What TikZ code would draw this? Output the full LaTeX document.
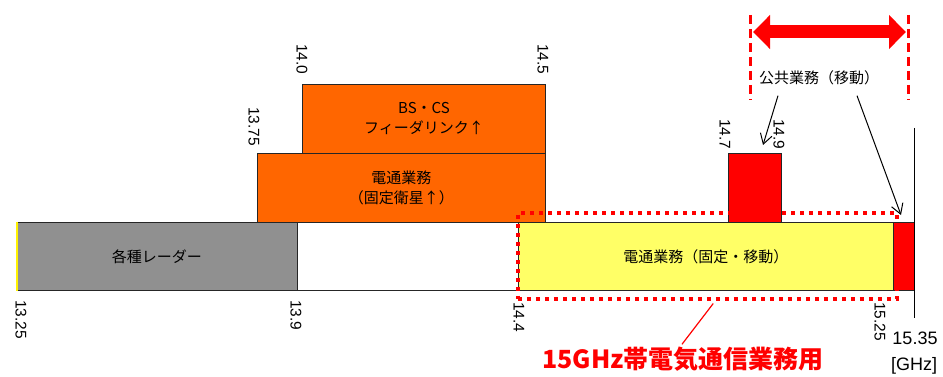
\documentclass[tikz,border=0pt]{standalone}
\usepackage{fontspec}
\setmainfont{Liberation Sans}
\newfontfamily\jp{Noto Sans CJK JP}
\usepackage{tikz}
\usetikzlibrary{arrows.meta,positioning}
\definecolor{radar}{HTML}{909090}
\definecolor{sat}{HTML}{FF6600}
\definecolor{fixmob}{HTML}{FFFF66}
\definecolor{pub}{HTML}{FF0000}
\def\jpfont{\jp\fontsize{15}{20}\selectfont}

\begin{document}
\begin{tikzpicture}[band/.style={draw=black!85, line width=0.9pt, anchor=north west, inner sep=0pt, align=center, font=\jpfont}, freq/.style={rotate=-90, anchor=west, inner sep=0pt, font=\fontsize{15.5}{15.5}\selectfont}, reddash/.style={draw=pub, line width=3.5pt, dash pattern=on 4pt off 5pt}, >={Straight Barb[length=10pt,width=12pt]}]
\useasboundingbox (0pt,0pt) rectangle (943pt,-377pt);
% band boxes
\draw (16.0pt, -222.0pt)node[band, fill=radar, minimum width=281pt, minimum height=68pt](radar){各種レーダー};
\draw (518.0pt, -222.0pt)node[band, fill=fixmob, minimum width=375pt, minimum height=68pt](fixmob){電通業務（固定・移動）};
\draw (893.0pt, -222.0pt)node[band, fill=pub, minimum width=21pt, minimum height=68pt](pubend){};
\draw (257.0pt, -153.0pt)node[band, fill=sat, minimum width=288pt, minimum height=69pt](sat){電通業務\\（固定衛星↑）};
\draw (302.0pt, -84.0pt)node[band, fill=sat, minimum width=243pt, minimum height=69pt](feeder){BS・CS\\フィーダリンク↑};
\draw (728.0pt, -153.0pt)node[band, fill=pub, minimum width=53pt, minimum height=69pt](mob){};
\draw[black!85, line width=0.9pt] (radar.north east) -- (fixmob.north west);
\draw[black!85, line width=0.9pt] (radar.south east) -- (fixmob.south west);
\draw[yellow, line width=2pt] ([xshift=1pt]radar.north west) -- ([xshift=1pt]radar.south west);
\draw[black, line width=1pt] (914pt, -128pt) -- (914pt, -318pt);
% frequencies
\draw (21.0pt, -300.0pt)node[freq](f1325){13.25};
\draw (296.0pt, -300.0pt)node[freq](f139){13.9};
\draw (519.0pt, -302.0pt)node[freq](f144){14.4};
\draw (880.0pt, -302.0pt)node[freq](f1525){15.25};
\draw (302.0pt, -44.0pt)node[freq](f140){14.0};
\draw (543.0pt, -44.0pt)node[freq](f145){14.5};
\draw (254.0pt, -107.0pt)node[freq](f1375){13.75};
\draw (725.0pt, -119.0pt)node[freq](f147){14.7};
\draw (779.0pt, -119.0pt)node[freq](f149){14.9};
\draw (915.0pt, -338.0pt)node[font=\fontsize{18}{18}\selectfont](f1535){15.35};
\draw (914.0pt, -366.0pt)node[font=\fontsize{18}{18}\selectfont](ghz){[GHz]};
% 15GHz band
\draw (516.0pt, -211.0pt)node[reddash, anchor=north west, minimum width=379pt, minimum height=86pt, inner sep=0pt](band15){};
\draw (683.0pt, -359.0pt)node[text=pub, font=\jp\bfseries\fontsize{25}{25}\selectfont](label15){15GHz帯電気通信業務用};
\draw[pub, line width=1.2pt] ([xshift=6pt, yshift=-3pt]band15.south) -- ([xshift=-1pt, yshift=-1pt]label15.north);
% public mobile
\coordinate (pubL) at (750pt, -15pt);
\coordinate (pubR) at (908pt, -15pt);
\draw[draw=pub, line width=3pt, dash pattern=on 9pt off 5pt] (pubL) -- ++(0pt, -85pt);
\draw[draw=pub, line width=3pt, dash pattern=on 9pt off 5pt] (pubR) -- ++(0pt, -85pt);
\draw[pub, line width=13pt, {Triangle[width=33pt,length=17pt]}-{Triangle[width=33pt,length=17pt]}] ([xshift=3pt, yshift=-17pt]pubL) -- ([xshift=-2pt, yshift=-17pt]pubR);
\draw (819.0pt, -78.0pt)node[font=\jp\fontsize{15}{15}\selectfont](pubtxt){公共業務（移動）};
\path[->, line width=1pt] ([xshift=-41pt, yshift=-7pt]pubtxt.south) edge ([xshift=35pt, yshift=8pt]mob.north west);
\path[->, line width=1pt] ([xshift=38pt, yshift=-7pt]pubtxt.south) edge ([xshift=8pt, yshift=7pt]pubend.north west);
\end{tikzpicture}
\end{document}
